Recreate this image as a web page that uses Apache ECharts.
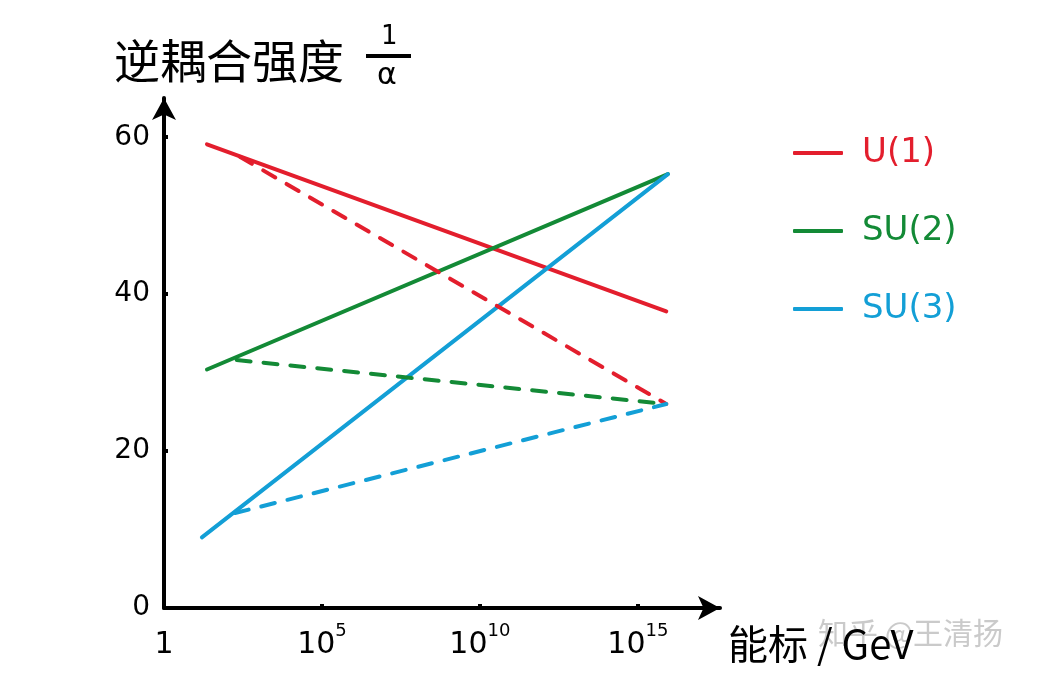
<!DOCTYPE html>
<html><head><meta charset="utf-8">
<script src="https://cdn.jsdelivr.net/npm/echarts@6/dist/echarts.min.js"></script>
<style>html,body{margin:0;padding:0;background:#fff}#c{width:1037px;height:682px}</style>
</head><body><div id="c"></div>
<script>
// x values are log10(energy / GeV)
var seriesNames = ['U(1)', 'SU(2)', 'SU(3)'];
var colors = ['#e31e2d', '#138a36', '#139fd6'];
var u1Solid = [[1.36, 59.1], [15.9, 37.8]];
var u1Dashed = [[2.4, 57.5], [15.9, 26.0]];
var su2Solid = [[1.36, 30.4], [15.95, 55.3]];
var su2Dashed = [[2.3, 31.6], [15.9, 26.0]];
var su3Solid = [[1.2, 9.0], [15.95, 55.3]];
var su3Dashed = [[2.25, 12.1], [15.9, 26.0]];
var xTicks = [0, 5, 10, 15];
var xTickLabels = ['1', '10^5', '10^10', '10^15'];
var yTicks = [0, 20, 40, 60];

var chart = echarts.init(document.getElementById('c'));
var solidStyle = function (c) { return { color: c, width: 4, cap: 'round' }; };
var dashStyle = function (c) { return { color: c, width: 4, type: [14, 13], cap: 'round' }; };
function mk(name, data, c, dashed) {
  return { name: name, type: 'line', data: data, symbol: 'none', silent: true,
    lineStyle: dashed ? dashStyle(c) : solidStyle(c), itemStyle: { color: c } };
}
var hand = 'DejaVu Sans';
chart.setOption({
  animation: false,
  grid: { left: 164, bottom: 74, top: 98, right: 317, containLabel: false },
  xAxis: {
    type: 'value', min: 0, max: 17.6, interval: 5,
    axisLine: { show: true, symbol: ['none', 'arrow'], symbolSize: [18, 22], lineStyle: { color: '#000', width: 4 } },
    axisTick: { show: true, inside: true, length: 4, customValues: [5, 10, 15], lineStyle: { color: '#000', width: 4 } },
    splitLine: { show: false },
    axisLabel: {
      customValues: xTicks, margin: 14,
      formatter: function (v) {
        var i = xTicks.indexOf(v); if (i < 0) return '';
        var s = xTickLabels[i].split('^');
        return s.length > 1 ? '{b|' + s[0] + '}{sup|' + s[1] + '}' : '{b|' + s[0] + '}';
      },
      rich: {
        b: { fontFamily: hand, fontSize: 30, color: '#000', lineHeight: 38, verticalAlign: 'bottom' },
        sup: { fontFamily: hand, fontSize: 18, color: '#000', lineHeight: 38, verticalAlign: 'top', padding: [0, 0, 14, 0] }
      }
    }
  },
  yAxis: {
    type: 'value', min: 0, max: 65, interval: 20,
    axisLine: { show: true, symbol: ['none', 'arrow'], symbolSize: [18, 22], lineStyle: { color: '#000', width: 4 } },
    axisTick: { show: true, inside: true, length: 4, customValues: [20, 40, 60], lineStyle: { color: '#000', width: 4 } },
    splitLine: { show: false },
    axisLabel: { customValues: yTicks, margin: 14, fontFamily: hand, fontSize: 28, color: '#000' }
  },
  legend: {
    orient: 'vertical', left: 788, top: 131, itemGap: 44, itemWidth: 50, itemHeight: 4,
    icon: 'roundRect',
    data: seriesNames.map(function (n, i) { return { name: n, textStyle: { color: colors[i] } }; }),
    textStyle: { fontFamily: hand, fontSize: 34, padding: [0, 0, 0, 14] }
  },
  graphic: [
    { type: 'text', left: 114, top: 38, style: { text: '逆耦合强度', fontFamily: 'Noto Sans CJK SC', fontSize: 46, fill: '#000' } },
    { type: 'text', left: 381, top: 24, style: { text: '1', fontFamily: hand, fontSize: 26, fill: '#000' } },
    { type: 'line', shape: { x1: 366, y1: 56, x2: 411, y2: 56 }, style: { stroke: '#000', lineWidth: 4 } },
    { type: 'text', left: 377, top: 61, style: { text: 'α', fontFamily: hand, fontSize: 30, fill: '#000' } },
    { type: 'text', left: 818, top: 618, style: { text: '知乎 @王清扬', fontFamily: 'Noto Sans CJK SC', fontSize: 30, fill: 'rgba(150,150,150,0.5)' } },
    { type: 'text', left: 728, top: 624, style: { text: '能标 / GeV', fontFamily: 'Noto Sans CJK SC', fontSize: 40, fill: '#000' } }
  ],
  series: [
    mk('U(1)', u1Solid, colors[0], false),
    mk('SU(2)', su2Solid, colors[1], false),
    mk('SU(3)', su3Solid, colors[2], false),
    mk('U(1) 虚线', u1Dashed, colors[0], true),
    mk('SU(2) 虚线', su2Dashed, colors[1], true),
    mk('SU(3) 虚线', su3Dashed, colors[2], true)
  ]
});
</script></body></html>
